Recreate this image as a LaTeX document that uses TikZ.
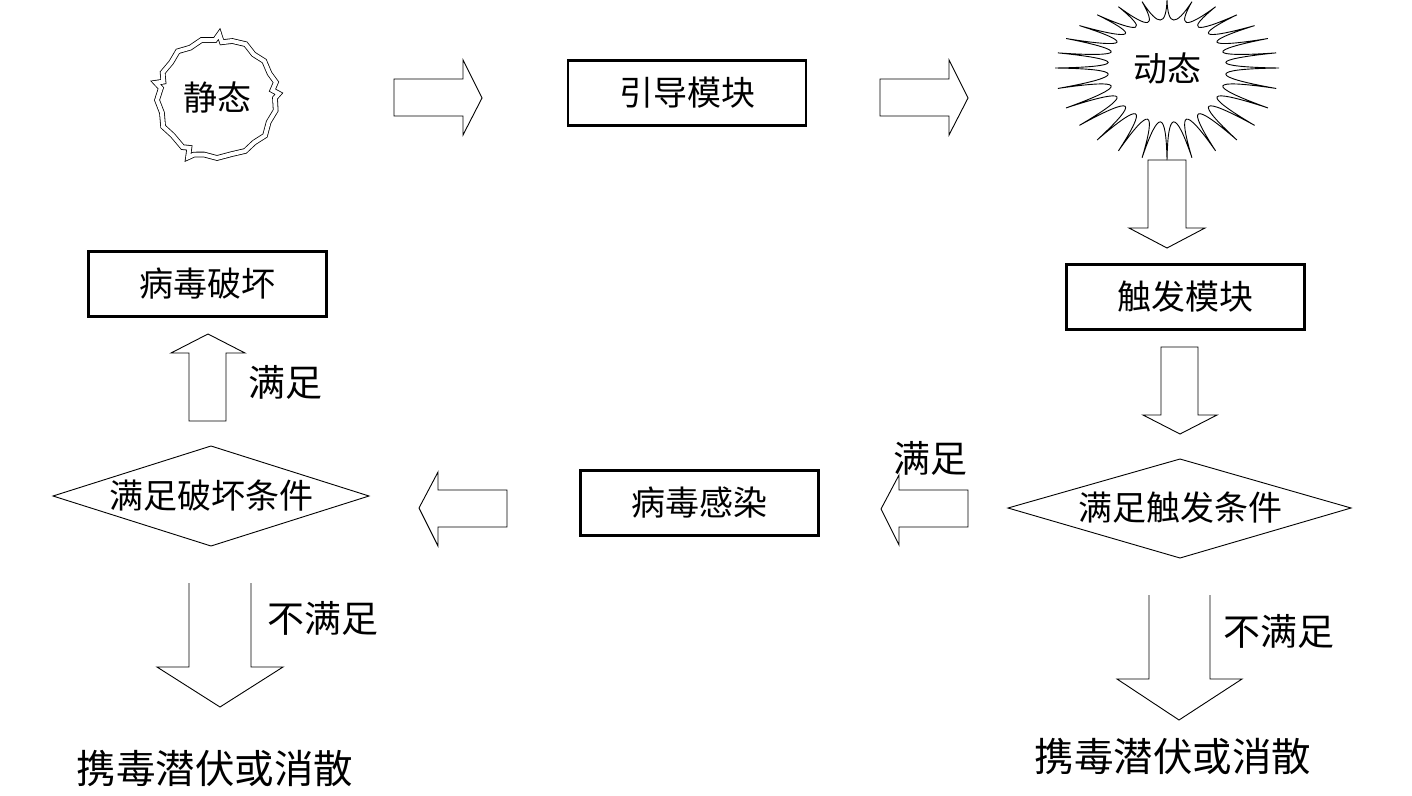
\documentclass[tikz,border=0pt]{standalone}
\usepackage{fontspec}
\newfontfamily\cjk{Noto Sans CJK SC}
\begin{document}
\begin{tikzpicture}[x=1pt,y=-1pt,
  box/.style={draw,line width=2.2pt,minimum width=238pt,minimum height=65pt,inner sep=0pt,font=\cjk\fontsize{34}{38}\selectfont},
  txt/.style={inner sep=0pt,font=\cjk\fontsize{34}{38}\selectfont},
  lbl/.style={inner sep=0pt,font=\cjk\fontsize{37}{41}\selectfont},
  big/.style={inner sep=0pt,font=\cjk\fontsize{39.5}{44}\selectfont},
  blk/.style={draw,line width=0.9pt,line join=miter},
  dia/.style={draw,line width=0.9pt}]
\useasboundingbox (0,0) rectangle (1412,795);
\fill[white] (0,0) rectangle (1412,795);

% static (jagged double circle)
\begin{scope}[shift={(217,98)}]
\draw[double,double distance=4pt,line width=0.8pt]
 (0:58) -- (12:60) -- (25:57) -- (38:61) -- (50:58) -- (62:60) -- (75:58) -- (90:60) -- (103:58) -- (112:61) -- (116:66) -- (119:57) -- (125:60) -- (140:58) -- (152:61) -- (165:57) -- (178:60) -- (190:57) -- (194:63) -- (197:56) -- (205:60) -- (218:58) -- (230:61) -- (242:57) -- (255:60) -- (268:58) -- (272:64) -- (275:56) -- (285:59) -- (298:61) -- (310:57) -- (322:60) -- (335:58) -- (345:61) -- (352:56) -- (356:62) -- cycle;
\end{scope}
\node[txt] (jingtai) at (217,98) {静态};

% arrow 1
\draw[blk] (394,79) -- (463,79) -- (463,60) -- (482,98) -- (463,135) -- (463,116) -- (394,116) -- cycle;
\node[box] (yindao) at (687,93) {引导模块};
% arrow 2
\draw[blk] (880,79) -- (949,79) -- (949,60) -- (968,98) -- (949,135) -- (949,116) -- (880,116) -- cycle;

% dynamic starburst
\begin{scope}[shift={(1167,68)}]
\draw[line width=0.9pt] (112,0)
  \foreach \i in {1,...,28} { .. controls ({(\i-0.9)*360/28}:42) and ({(\i-0.1)*360/28}:42) .. ({112*cos(\i*360/28)},{80*sin(\i*360/28)+12*abs(sin(\i*360/28))}) } -- cycle;
\end{scope}
\node[txt] (dongtai) at (1167,68) {动态};

% arrow 3 down
\draw[blk] (1148,160) -- (1186,160) -- (1186,228) -- (1205,228) -- (1167,248) -- (1129,228) -- (1148,228) -- cycle;
\node[box] (chufa) at (1185.5,297) {触发模块};
% arrow 4 down
\draw[blk] (1161,347) -- (1198,347) -- (1198,415) -- (1217,415) -- (1180,434) -- (1143,415) -- (1161,415) -- cycle;

% right diamond
\node[txt] (tiaojian1) at (1180,508) {满足触发条件};
\draw[dia] (1008,508) -- (1180,459) -- (1351,508) -- (1180,558) -- cycle;

\node[lbl] (manzu1) at (930,458) {满足};
% arrow 5 left
\draw[blk] (968,490) -- (968,527) -- (899,527) -- (899,545) -- (881,509) -- (899,475) -- (899,490) -- cycle;
\node[box] (ganran) at (699.5,503) {病毒感染};
% arrow 6 left
\draw[blk] (507,490) -- (507,527) -- (438,527) -- (438,546) -- (419,508) -- (438,472) -- (438,490) -- cycle;

% left diamond
\node[txt] (tiaojian2) at (211,496) {满足破坏条件};
\draw[dia] (53,496) -- (211,446) -- (369,496) -- (211,546) -- cycle;

% up arrow
\draw[blk] (189,421) -- (189,353) -- (171,353) -- (208,334) -- (245,353) -- (226,353) -- (226,421) -- cycle;
\node[lbl] (manzu2) at (285,382) {满足};
\node[box] (pohuai) at (207.5,284) {病毒破坏};

% bottom left arrow (open top)
\draw[blk] (189,583) -- (189,667) -- (157,667) -- (220,707) -- (283,667) -- (251,667) -- (251,583);
\node[lbl] (bumanzu1) at (323,618) {不满足};
\node[big] (qianfu1) at (215,768) {携毒潜伏或消散};

% bottom right arrow (open top)
\draw[blk] (1149,595) -- (1149,679) -- (1117,679) -- (1179,720) -- (1242,679) -- (1210,679) -- (1210,595);
\node[lbl] (bumanzu2) at (1279,631) {不满足};
\node[big] (qianfu2) at (1173,756) {携毒潜伏或消散};
\end{tikzpicture}
\end{document}
